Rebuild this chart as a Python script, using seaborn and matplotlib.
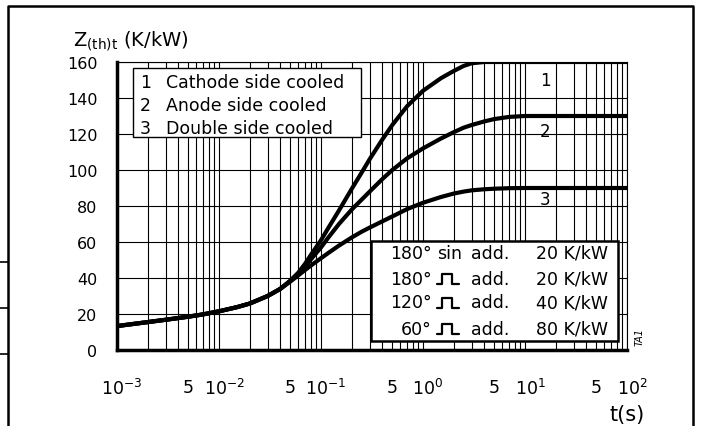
import numpy as np
import pandas as pd
import seaborn as sns
import matplotlib.pyplot as plt
from matplotlib.lines import Line2D
from matplotlib.patches import Rectangle
from matplotlib.ticker import LogLocator, NullFormatter
from matplotlib.transforms import ScaledTranslation

# transient thermal impedance
t_s = [1e-3, 2e-3, 3e-3, 5e-3, 7e-3, 1e-2, 1.5e-2, 2e-2, 3e-2, 4e-2, 5e-2,
       6e-2, 7e-2, 8e-2, 0.1, 0.12, 0.15, 0.2, 0.25, 0.3, 0.4, 0.5, 0.7,
       1.0, 1.5, 2.0, 2.5, 3.0, 4.0, 5.0, 7.0, 10.0, 100.0]
z_cathode = [13.3, 15.5, 16.8, 18.5, 19.8, 21.5, 23.8, 25.8, 30, 34, 38.5,
             43, 48, 53, 61, 68.5, 77.5, 89.5, 98.5, 106, 117, 125, 135.5,
             144, 151, 155, 157.8, 159.3, 160, 160, 160, 160, 160]
z_anode = [13.3, 15.5, 16.8, 18.5, 19.8, 21.5, 23.8, 25.8, 30, 34, 38.5,
           42.5, 46.5, 50.5, 57, 63, 70, 78, 83.5, 88, 95, 100, 106.5,
           112, 117.5, 121, 123.5, 125, 127, 128.3, 129.5, 130, 130]
z_double = [13.3, 15.5, 16.8, 18.5, 19.8, 21.5, 23.8, 25.8, 30, 34, 38,
            41.5, 44.5, 47, 51, 54.2, 58, 62.5, 65.7, 68, 71.5, 74.2, 78.3,
            81.8, 85, 86.9, 88, 88.7, 89.3, 89.6, 89.9, 90, 90]
curve_ids = ["1", "2", "3"]
curve_names = ["Cathode side cooled", "Anode side cooled", "Double side cooled"]
add_angles = ["180°", "180°", "120°", "60°"]
add_shapes = ["sin", "pulse", "pulse", "pulse"]
add_values = ["20 K/kW", "20 K/kW", "40 K/kW", "80 K/kW"]
y_ticks = [0, 20, 40, 60, 80, 100, 120, 140, 160]

df = pd.DataFrame({
    "t": t_s * 3,
    "z": z_cathode + z_anode + z_double,
    "curve": [c for c in curve_ids for _ in t_s],
})

sns.set_theme(style="white")
plt.rcParams["font.family"] = ["DejaVu Sans"]
plt.rcParams["mathtext.fontset"] = "dejavusans"
plt.rcParams["text.color"] = "black"
plt.rcParams["xtick.labelcolor"] = "black"
plt.rcParams["ytick.labelcolor"] = "black"

W, H = 701, 427
fig = plt.figure(figsize=(W / 100, H / 100), dpi=100)


def P(px, py):
    # pixel position -> figure fraction
    return px / W, 1 - py / H


ax = fig.add_axes([117 / W, 1 - 351 / H, 510 / W, 288 / H])
sns.lineplot(data=df, x="t", y="z", hue="curve", palette=["black"] * 3,
             lw=3, legend=False, ax=ax, estimator=None, sort=False)
ax.set_xscale("log")
ax.set_xlim(1e-3, 1e2)
ax.set_ylim(0, 160)

# grid: every 1..9 of each decade, every 20 K/kW
ax.grid(which="both", color="black", lw=0.8)
ax.set_axisbelow(True)
ax.set_yticks(y_ticks)
ax.set_yticklabels([str(v) for v in y_ticks], fontsize=11.5, color="black")
ax.tick_params(axis="y", length=9, width=1.8, pad=5, color="black")

decades = [1e-3, 1e-2, 1e-1, 1e0, 1e1, 1e2]
fives = [5e-3, 5e-2, 5e-1, 5e0, 5e1]
major = sorted(decades + fives)
ax.set_xticks(major)
labels = []
for v in major:
    if v in decades:
        labels.append(r"$\mathregular{10^{%d}}$" % int(round(np.log10(v))))
    else:
        labels.append("5")
ax.set_xticklabels(labels, fontsize=12.5, color="black")
ax.xaxis.set_minor_locator(LogLocator(base=10, subs=np.arange(2, 10)))
ax.xaxis.set_minor_formatter(NullFormatter())
ax.tick_params(axis="x", which="major", length=10, width=2.5, pad=10, color="black")
ax.tick_params(axis="x", which="minor", length=0)
for lab, v in zip(ax.get_xticklabels(), major):
    if v in decades:
        lab.set_transform(lab.get_transform() + ScaledTranslation(5 / 100, 0, fig.dpi_scale_trans))

ax.set_xlabel("")
ax.set_ylabel("")
for side in ["left", "bottom"]:
    ax.spines[side].set_linewidth(2.5)
    ax.spines[side].set_color("black")
for side in ["top", "right"]:
    ax.spines[side].set_linewidth(0.8)
    ax.spines[side].set_color("black")

# axis titles
fig.text(*P(73, 46), r"Z$_{\mathregular{(th)t}}$ (K/kW)", fontsize=14, va="baseline")
fig.text(*P(645, 421), "t(s)", fontsize=15, ha="right", va="baseline")
fig.text(*P(640, 337), "TA1", fontsize=7, style="italic", rotation=90,
         ha="center", va="center")

# curve numbers at the right
for cid, py in zip(curve_ids, [81, 132, 200]):
    fig.text(*P(545, py), cid, fontsize=12, ha="center", va="center")

# legend box with curve names
fig.add_artist(Rectangle(P(133, 138), 228 / W, 69 / H, transform=fig.transFigure,
                         facecolor="white", edgecolor="black", lw=1, zorder=5))
for cid, name, py in zip(curve_ids, curve_names, [83, 106, 129]):
    fig.text(*P(140, py), cid, fontsize=12.5, va="center", zorder=6)
    fig.text(*P(166, py), name, fontsize=12.5, va="center", zorder=6)

# box with additional values for conduction angles
fig.add_artist(Rectangle(P(371, 342), 247 / W, 100 / H, transform=fig.transFigure,
                         facecolor="white", edgecolor="black", lw=1.8, zorder=5))
for ang, shp, val, py in zip(add_angles, add_shapes, add_values, [254, 280, 303.5, 330]):
    fig.text(*P(432, py), ang, fontsize=12.5, ha="right", va="center", zorder=6)
    if shp == "sin":
        fig.text(*P(437, py), "sin", fontsize=12.5, va="center", zorder=6)
    else:
        xs = [437, 442, 442, 452, 452, 459]
        ys = [py + 5, py + 5, py - 5, py - 5, py + 5, py + 5]
        fig.add_artist(Line2D([x / W for x in xs], [1 - y / H for y in ys],
                              transform=fig.transFigure, color="black", lw=1.6, zorder=6))
    fig.text(*P(471, py), "add.", fontsize=12.5, va="center", zorder=6)
    fig.text(*P(608, py), val, fontsize=12.5, ha="right", va="center", zorder=6)

# datasheet frame around the figure
fig.add_artist(Line2D([8 / W, 8 / W, 693 / W, 693 / W], [0, 1 - 7 / H, 1 - 7 / H, 0],
                      transform=fig.transFigure, color="black", lw=1.8))
for py in [263, 309, 355]:
    fig.add_artist(Line2D([0, 8 / W], [1 - py / H] * 2, transform=fig.transFigure,
                          color="black", lw=1.2))

fig.savefig("out.png", dpi=100, facecolor="white")
